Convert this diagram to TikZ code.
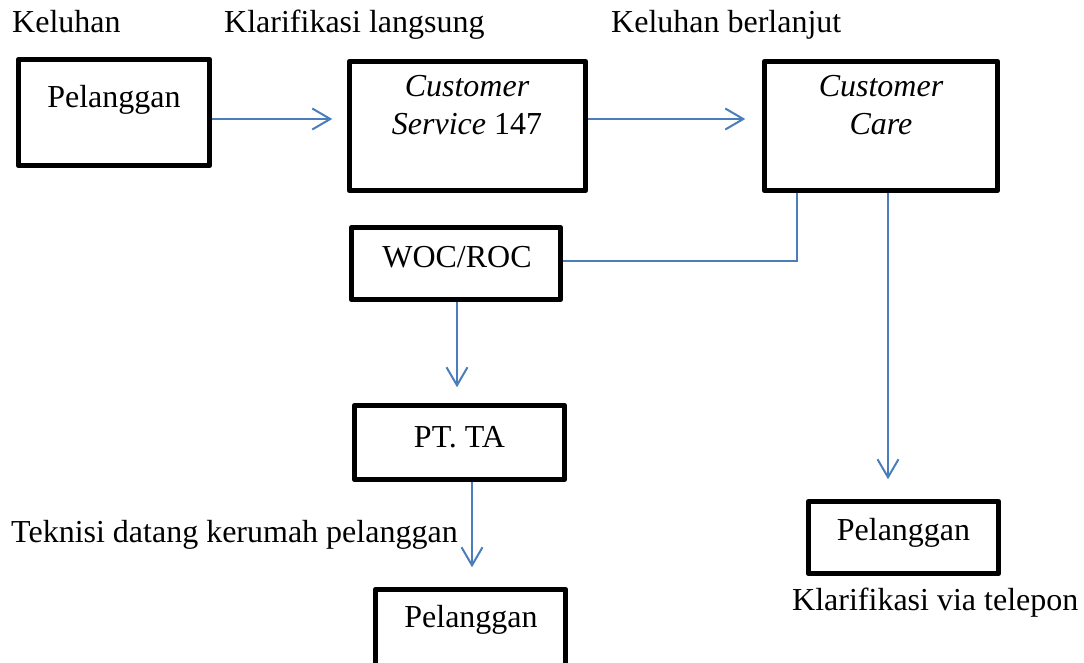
\documentclass[tikz,border=0pt]{standalone}
\usepackage{fontspec}
\setmainfont{Liberation Serif}
\usetikzlibrary{arrows.meta,calc}
\definecolor{arrblue}{RGB}{74,126,187}
\begin{document}
\begin{tikzpicture}[x=1pt,y=-1pt,
  box/.style={draw=black,line width=5.5pt,line join=round,rectangle,inner sep=0pt,fill=white},
  txt/.style={anchor=base,inner sep=0pt,font=\fontsize{32}{38.4}\selectfont},
  lbl/.style={anchor=base west,inner sep=0pt,font=\fontsize{32}{38.4}\selectfont},
  conn/.style={draw=arrblue,line width=2pt},
  arr/.style={conn,-{Straight Barb[length=18pt,width=21pt,line width=2pt]}}]
\useasboundingbox (0,0) rectangle (1084,663);
\clip (0,0) rectangle (1084,663);
\fill[white] (0,0) rectangle (1084,663);
% boxes
\node[box,minimum width=191pt,minimum height=106pt] (b1) at (114,112.5) {};
\node[box,minimum width=236pt,minimum height=129pt] (b2) at (467.5,126) {};
\node[box,minimum width=233pt,minimum height=129pt] (b3) at (881,126) {};
\node[box,minimum width=209pt,minimum height=72pt] (woc) at (456,263.5) {};
\node[box,minimum width=210pt,minimum height=74pt] (pt) at (459.5,442.5) {};
\node[box,minimum width=190pt,minimum height=92pt] (p3) at (470.5,635.5) {};
\node[box,minimum width=190pt,minimum height=72pt] (p2) at (903.5,537.5) {};
% box texts
\node[txt] (t1) at (114,108) {Pelanggan};
\node[txt] (t2a) at (467,97) {\itshape Customer};
\node[txt] (t2b) at (467,135) {\textit{Service} 147};
\node[txt] (t3a) at (881,97) {\itshape Customer};
\node[txt] (t3b) at (881,135) {\itshape Care};
\node[txt] (t4) at (457,267) {WOC/ROC};
\node[txt] (t5) at (459.5,447) {PT. TA};
\node[txt] (t6) at (471,627) {Pelanggan};
\node[txt] (t7) at (903.5,540) {Pelanggan};
% labels
\node[lbl] (l1) at (12,33) {Keluhan};
\node[lbl] (l2) at (224,33) {Klarifikasi langsung};
\node[lbl] (l3) at (611,33) {Keluhan berlanjut};
\node[lbl] (l4) at (11,542) {Teknisi datang kerumah pelanggan};
\node[lbl] (l5) at (792,610) {Klarifikasi via telepon};
% helper coordinates
\coordinate (r1) at (0,119);
\coordinate (k) at (797,261);
\coordinate (c1) at (457,0);
\coordinate (c2) at (888,0);
\coordinate (c3) at (472,0);
% connectors
\draw[arr,shorten >=14.5pt] (b1.east |- r1) -- (b2.west |- r1);
\draw[arr,shorten >=16.5pt] (b2.east |- r1) -- (b3.west |- r1);
\draw[conn] (b3.south -| k) -- (k) -- (woc.east |- k);
\draw[arr,shorten >=15.5pt] (woc.south -| c1) -- (pt.north -| c1);
\draw[arr,shorten >=19.5pt] (b3.south -| c2) -- (p2.north -| c2);
\draw[arr,shorten >=19.5pt] (pt.south -| c3) -- (p3.north -| c3);
\end{tikzpicture}
\end{document}
